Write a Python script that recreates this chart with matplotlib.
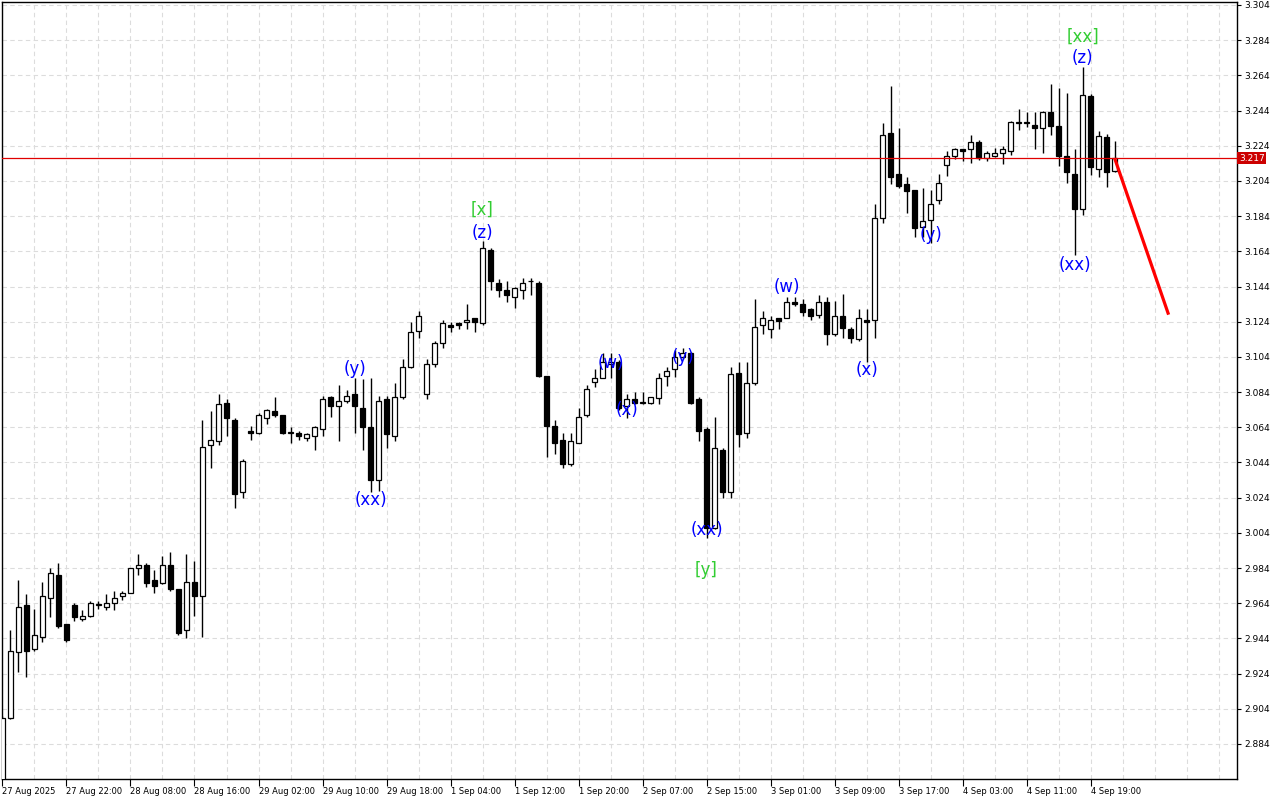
import numpy as np
import matplotlib
matplotlib.use('Agg')
import matplotlib.pyplot as plt
import matplotlib.transforms as mtransforms

# 小时K线数据 (开, 高, 低, 收)
opens = [2.858, 2.899, 2.936, 2.963, 2.938, 2.945, 2.967, 2.980, 2.952, 2.963,
         2.955, 2.957, 2.963, 2.962, 2.964, 2.968, 2.970, 2.984, 2.986, 2.977,
         2.9755, 2.986, 2.972, 2.949, 2.976, 2.968, 3.054, 3.056, 3.078, 3.068,
         3.027, 3.062, 3.061, 3.069, 3.073, 3.071, 3.061, 3.061, 3.058, 3.059,
         3.063, 3.081, 3.076, 3.079, 3.083, 3.075, 3.064, 3.034, 3.080, 3.059,
         3.081, 3.098, 3.119, 3.083, 3.100, 3.112, 3.122, 3.123, 3.124, 3.126,
         3.123, 3.165, 3.146, 3.142, 3.138, 3.142, 3.147, 3.146, 3.093, 3.065,
         3.057, 3.043, 3.055, 3.071, 3.090, 3.092, 3.100, 3.101, 3.076, 3.080,
         3.078, 3.078, 3.0807, 3.093, 3.097, 3.104, 3.106, 3.080, 3.063, 3.007,
         3.051, 3.027, 3.095, 3.061, 3.089, 3.122, 3.120, 3.126, 3.126, 3.135,
         3.134, 3.131, 3.128, 3.135, 3.117, 3.127, 3.120, 3.114, 3.125, 3.125,
         3.183, 3.231, 3.208, 3.202, 3.199, 3.178, 3.182, 3.193, 3.213, 3.218,
         3.222, 3.222, 3.226, 3.217, 3.218, 3.220, 3.221, 3.237, 3.237, 3.236,
         3.234, 3.243, 3.235, 3.218, 3.208, 3.188, 3.252, 3.211, 3.229, 3.2097]
highs = [2.900, 2.949, 2.977, 2.969, 2.961, 2.976, 2.984, 2.987, 2.952, 2.964,
         2.960, 2.965, 2.965, 2.969, 2.971, 2.971, 2.984, 2.992, 2.987, 2.983,
         2.991, 2.993, 2.972, 2.992, 2.988, 3.068, 3.073, 3.083, 3.080, 3.069,
         3.046, 3.065, 3.072, 3.0745, 3.081, 3.071, 3.064, 3.062, 3.061, 3.065,
         3.082, 3.082, 3.088, 3.085, 3.092, 3.0915, 3.092, 3.082, 3.082, 3.089,
         3.103, 3.124, 3.130, 3.103, 3.113, 3.125, 3.124, 3.124, 3.134, 3.126,
         3.170, 3.166, 3.148, 3.147, 3.144, 3.149, 3.149, 3.147, 3.093, 3.068,
         3.061, 3.061, 3.075, 3.088, 3.097, 3.106, 3.106, 3.102, 3.083, 3.084,
         3.084, 3.081, 3.095, 3.098, 3.108, 3.109, 3.107, 3.081, 3.064, 3.070,
         3.052, 3.098, 3.101, 3.101, 3.137, 3.130, 3.127, 3.126, 3.138, 3.138,
         3.137, 3.132, 3.139, 3.138, 3.136, 3.140, 3.121, 3.131, 3.131, 3.191,
         3.237, 3.258, 3.234, 3.206, 3.199, 3.200, 3.199, 3.208, 3.221, 3.2226,
         3.222, 3.230, 3.227, 3.221, 3.2227, 3.224, 3.238, 3.245, 3.243, 3.243,
         3.2435, 3.259, 3.257, 3.254, 3.222, 3.269, 3.2535, 3.2325, 3.2307, 3.2267]
lows = [2.855, 2.898, 2.925, 2.922, 2.937, 2.942, 2.956, 2.950, 2.942, 2.954,
        2.954, 2.956, 2.961, 2.960, 2.960, 2.966, 2.970, 2.980, 2.9735, 2.970,
        2.975, 2.971, 2.946, 2.944, 2.957, 2.945, 3.041, 3.054, 3.059, 3.018,
        3.024, 3.057, 3.060, 3.066, 3.070, 3.060, 3.055, 3.057, 3.056, 3.051,
        3.059, 3.070, 3.056, 3.078, 3.061, 3.051, 3.027, 3.028, 3.052, 3.056,
        3.080, 3.0975, 3.115, 3.080, 3.098, 3.109, 3.118, 3.120, 3.120, 3.118,
        3.122, 3.142, 3.138, 3.135, 3.132, 3.137, 3.139, 3.0925, 3.047, 3.049,
        3.041, 3.042, 3.055, 3.070, 3.087, 3.092, 3.092, 3.074, 3.069, 3.077,
        3.077, 3.077, 3.077, 3.0875, 3.0925, 3.103, 3.077, 3.056, 3.001, 3.006,
        3.024, 3.024, 3.053, 3.058, 3.088, 3.117, 3.115, 3.120, 3.126, 3.133,
        3.127, 3.125, 3.126, 3.111, 3.116, 3.115, 3.112, 3.113, 3.101, 3.115,
        3.180, 3.202, 3.200, 3.186, 3.172, 3.172, 3.169, 3.191, 3.207, 3.2165,
        3.2155, 3.214, 3.216, 3.2155, 3.2175, 3.2137, 3.219, 3.233, 3.2345, 3.222,
        3.220, 3.230, 3.2125, 3.203, 3.162, 3.1847, 3.2075, 3.206, 3.2007, 3.209]
closes = [2.899, 2.937, 2.962, 2.937, 2.946, 2.968, 2.981, 2.951, 2.943, 2.956,
          2.957, 2.964, 2.963, 2.964, 2.967, 2.970, 2.984, 2.986, 2.9755, 2.974,
          2.986, 2.972, 2.947, 2.976, 2.968, 3.053, 3.057, 3.077, 3.069, 3.026,
          3.045, 3.061, 3.071, 3.074, 3.071, 3.061, 3.061, 3.059, 3.060, 3.064,
          3.080, 3.076, 3.079, 3.082, 3.076, 3.064, 3.034, 3.079, 3.060, 3.081,
          3.098, 3.118, 3.127, 3.100, 3.112, 3.123, 3.121, 3.122, 3.125, 3.124,
          3.166, 3.147, 3.142, 3.139, 3.143, 3.146, 3.147, 3.093, 3.065, 3.055,
          3.043, 3.056, 3.070, 3.086, 3.092, 3.101, 3.101, 3.075, 3.080, 3.078,
          3.078, 3.081, 3.092, 3.096, 3.104, 3.106, 3.078, 3.062, 3.007, 3.052,
          3.027, 3.094, 3.060, 3.089, 3.121, 3.126, 3.125, 3.1245, 3.135, 3.134,
          3.1296, 3.127, 3.135, 3.117, 3.127, 3.1205, 3.115, 3.126, 3.124, 3.183,
          3.230, 3.206, 3.201, 3.198, 3.177, 3.181, 3.191, 3.203, 3.218, 3.222,
          3.221, 3.226, 3.217, 3.220, 3.220, 3.222, 3.2375, 3.237, 3.237, 3.234,
          3.243, 3.235, 3.218, 3.209, 3.188, 3.253, 3.212, 3.2295, 3.209, 3.217]

time_labels = ["27 Aug 2025", "27 Aug 22:00", "28 Aug 08:00", "28 Aug 16:00",
               "29 Aug 02:00", "29 Aug 10:00", "29 Aug 18:00", "1 Sep 04:00",
               "1 Sep 12:00", "1 Sep 20:00", "2 Sep 07:00", "2 Sep 15:00",
               "3 Sep 01:00", "3 Sep 09:00", "3 Sep 17:00", "4 Sep 03:00",
               "4 Sep 11:00", "4 Sep 19:00"]
label_step = 8

# 波浪标注
wave_text = ["(y)", "(xx)", "[x]", "(z)", "(w)", "(x)", "(y)", "(xx)", "[y]",
             "(w)", "(x)", "(y)", "(xx)", "(z)", "[xx]"]
wave_bar = [44, 46, 60, 60, 76, 78, 85, 88, 88, 98, 108, 116, 134, 135, 135]
wave_price = [3.0973, 3.0229, 3.1876, 3.1745, 3.1007, 3.074, 3.104, 3.0058, 2.983,
              3.1438, 3.0967, 3.1733, 3.156, 3.2739, 3.2858]
wave_level = [0, 0, 1, 0, 0, 0, 0, 0, 1, 0, 0, 0, 0, 0, 1]

current_price = 3.217
forecast_bar = [139, 145.75]
forecast_price = [3.217, 3.128]

price_ticks = np.round(np.arange(2.884, 3.3041, 0.02), 3)


def draw_candles(ax):
    x = np.arange(len(opens))
    o = np.array(opens)
    h = np.array(highs)
    l = np.array(lows)
    c = np.array(closes)
    ax.vlines(x, l, h, color='black', linewidth=1.0, zorder=2)
    up = c >= o
    bottom = np.minimum(o, c)
    height = np.maximum(np.abs(c - o), 0.0004)
    ax.bar(x[up], height[up], bottom=bottom[up], width=0.6,
           facecolor='white', edgecolor='black', linewidth=0.9, zorder=3)
    ax.bar(x[~up], height[~up], bottom=bottom[~up], width=0.6,
           facecolor='black', edgecolor='black', linewidth=0.9, zorder=3)


fig = plt.figure(figsize=(12.8, 8), dpi=100)
ax = fig.add_axes([2 / 1280, 21 / 800, 1235 / 1280, 777 / 800])

ax.set_xlim(-0.06, 154.3)
ax.set_ylim(2.8641, 3.3057)

# 网格
ax.set_xticks(np.arange(0, 155, 4), minor=True)
ax.set_xticks(np.arange(len(time_labels)) * label_step)
ax.set_xticklabels(time_labels, fontsize=6, ha='left')
ax.set_yticks(price_ticks)
ax.set_yticklabels([f'{v:.3f}' for v in price_ticks], fontsize=6.5)
ax.yaxis.tick_right()
ax.tick_params(axis='x', which='major', length=5, width=0.8, pad=0.5, direction='out')
ax.tick_params(axis='x', which='minor', length=0)
ax.tick_params(axis='y', length=3, width=0.8, pad=2, direction='out')
ax.grid(True, axis='x', which='both', color='#dcdcdc', linestyle=(0, (4, 3)), linewidth=0.8)
ax.grid(True, axis='y', which='major', color='#dcdcdc', linestyle=(0, (4, 3)), linewidth=0.8)
ax.set_axisbelow(True)
for sp in ax.spines.values():
    sp.set_linewidth(1.0)
    sp.set_color('black')

draw_candles(ax)

# 当前价格线
ax.axhline(current_price, color='#e00000', linewidth=0.9, zorder=4)
trans = mtransforms.blended_transform_factory(ax.transAxes, ax.transData)
ax.text(1.0015, current_price, f'{current_price:.3f}', transform=trans, fontsize=6.5,
        color='white', va='center', ha='left', clip_on=False,
        bbox=dict(boxstyle='square,pad=0.2', facecolor='#cc0000', edgecolor='none'))

# 预测线
ax.plot(forecast_bar, forecast_price, color='#ff0000', linewidth=2.3,
        solid_capstyle='butt', zorder=5)

# 波浪标注
for t, b, p, lv in zip(wave_text, wave_bar, wave_price, wave_level):
    col = '#32cd32' if lv == 1 else '#0000ff'
    ax.text(b, p, t, fontsize=12, color=col, ha='center', va='center', zorder=6)

fig.savefig('out.png', dpi=100)
plt.close(fig)
